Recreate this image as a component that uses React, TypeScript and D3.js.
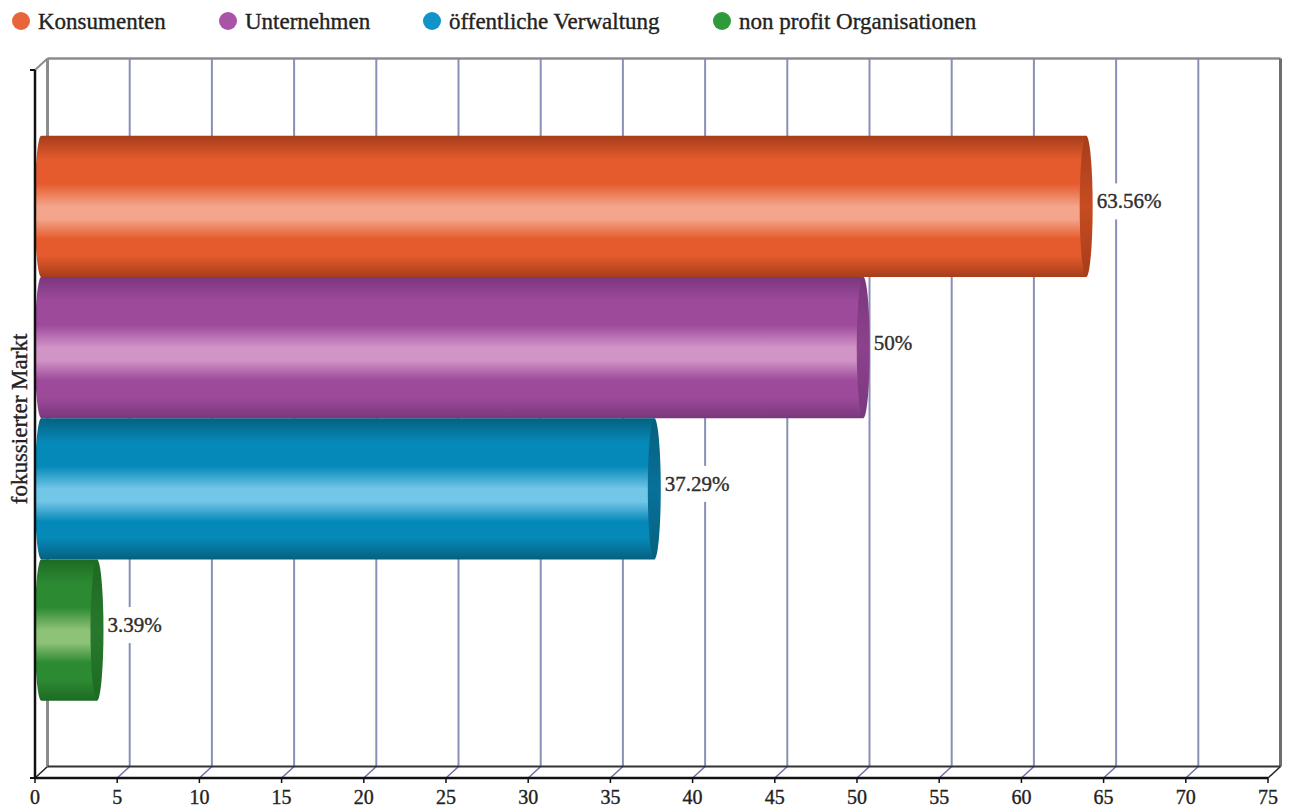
import React from "react";
import * as d3 from "d3";

const category = "fokussierter Markt";
const seriesNames = ["Konsumenten", "Unternehmen", "öffentliche Verwaltung", "non profit Organisationen"];
const seriesValues = [63.56, 50, 37.29, 3.39];
const valueLabels = ["63.56%", "50%", "37.29%", "3.39%"];
const xTicks = [0, 5, 10, 15, 20, 25, 30, 35, 40, 45, 50, 55, 60, 65, 70, 75];

const palette = [
  { legend: "#e8643a", dark: "#a63d1a", base: "#e55b2d", light: "#f4a58b", cap: "#c64c22" },
  { legend: "#a855a8", dark: "#7a377d", base: "#9d4a9b", light: "#d194c7", cap: "#8c428d" },
  { legend: "#0f93c8", dark: "#06607f", base: "#0589b9", light: "#72c6e7", cap: "#08719a" },
  { legend: "#2e9a3a", dark: "#1d6a23", base: "#2c8a32", light: "#8ec277", cap: "#27782c" },
];

const W = 1292;
const H = 810;
const FONT = "'Liberation Serif', 'Times New Roman', serif";

export default function App() {
  const dx = 12.5;
  const dy = -11.5;
  const frontTop = 70;
  const frontBottom = 778;
  const xF = d3.scaleLinear().domain([0, 75]).range([35, 1268]);
  const xB = (v: number) => xF(v) + dx;
  const xM = (v: number) => xF(v) + dx / 2;

  const cat = d3
    .scaleBand<string>()
    .domain([category])
    .range([frontTop + dy / 2, frontBottom + dy / 2])
    .paddingOuter(0.1266)
    .paddingInner(0);
  const c0 = cat(category) as number;
  const sub = d3.scaleBand<string>().domain(seriesNames).range([c0, c0 + cat.bandwidth()]).padding(0);
  const bh = sub.bandwidth();
  const rx = 6.5;

  const legendX = [21, 228, 432, 722];

  const gridColor = "#8a8fb8";
  const textStyle = { stroke: "#222", strokeWidth: 0.35 } as React.CSSProperties;

  return (
    <svg width={W} height={H} style={{ position: "absolute", left: 0, top: 0, background: "#fff" }}>
      <defs>
        {palette.map((p, i) => (
          <linearGradient key={i} id={`g${i}`} x1="0" y1="0" x2="0" y2="1">
            <stop offset="0%" stopColor={p.dark} />
            <stop offset="17%" stopColor={p.base} />
            <stop offset="34%" stopColor={p.base} />
            <stop offset="50%" stopColor={p.light} />
            <stop offset="59%" stopColor={p.light} />
            <stop offset="73%" stopColor={p.base} />
            <stop offset="85%" stopColor={p.base} />
            <stop offset="100%" stopColor={p.dark} />
          </linearGradient>
        ))}
        {palette.map((p, i) => (
          <linearGradient key={`c${i}`} id={`cap${i}`} x1="0" y1="0" x2="0" y2="1">
            <stop offset="0%" stopColor={p.dark} />
            <stop offset="50%" stopColor={p.cap} />
            <stop offset="100%" stopColor={p.dark} />
          </linearGradient>
        ))}
      </defs>

      {/* Legend */}
      {seriesNames.map((s, i) => (
        <g key={s}>
          <circle cx={legendX[i]} cy={21} r={9} fill={palette[i].legend} />
          <text x={legendX[i] + 17} y={29} fontFamily={FONT} fontSize={23} fill="#222" style={textStyle}>
            {s}
          </text>
        </g>
      ))}

      {/* Back wall grid */}
      {xTicks
        .filter((t) => t > 0 && t < 75)
        .map((t) => (
          <line key={`g${t}`} x1={xB(t)} x2={xB(t)} y1={frontTop + dy} y2={frontBottom + dy} stroke={gridColor} strokeWidth={2} />
        ))}
      {/* floor diagonals */}
      {xTicks.map((t) => (
        <line
          key={`d${t}`}
          x1={xF(t)}
          y1={frontBottom}
          x2={xB(t)}
          y2={frontBottom + dy}
          stroke={t === 0 || t === 75 ? "#222" : "#6a70a8"}
          strokeWidth={1.5}
        />
      ))}
      {/* back left wall */}
      <line x1={xB(0)} x2={xB(0)} y1={frontTop + dy} y2={frontBottom + dy} stroke="#8c8c8c" strokeWidth={3} />
      {/* top line */}
      <line x1={xB(0)} x2={xB(75)} y1={frontTop + dy} y2={frontTop + dy} stroke="#8c8c8c" strokeWidth={2.5} />
      {/* right wall */}
      <line x1={xB(75)} x2={xB(75)} y1={frontTop + dy} y2={frontBottom + dy} stroke="#6e6e6e" strokeWidth={3} />
      {/* top-left diagonal */}
      <line x1={xF(0)} y1={frontTop} x2={xB(0)} y2={frontTop + dy} stroke="#8c8c8c" strokeWidth={2} />
      {/* back floor line */}
      <line x1={xB(0)} x2={xB(75)} y1={frontBottom + dy} y2={frontBottom + dy} stroke="#333" strokeWidth={2} />

      {/* Bars */}
      {seriesNames.map((s, i) => {
        const top = sub(s) as number;
        const bottom = top + bh;
        const ry = bh / 2;
        const x0 = xM(0);
        const x1 = xM(seriesValues[i]);
        const d = `M${x0},${top} L${x1},${top} L${x1},${bottom} L${x0},${bottom} A${rx},${ry} 0 0 1 ${x0},${top} Z`;
        return (
          <g key={s}>
            <path d={d} fill={`url(#g${i})`} />
            <ellipse cx={x1} cy={top + ry} rx={rx} ry={ry} fill={`url(#cap${i})`} />
          </g>
        );
      })}

      {/* Value labels */}
      {seriesNames.map((s, i) => {
        const top = sub(s) as number;
        const cy = top + bh / 2 - 5;
        const x = xM(seriesValues[i]) + rx + 4;
        const tw = valueLabels[i].length * 10.6;
        return (
          <g key={`l${s}`}>
            <rect x={x - 2} y={cy - 18} width={tw + 4} height={36} fill="#fff" />
            <text x={x} y={cy + 7} fontFamily={FONT} fontSize={21} fill="#333" style={textStyle}>
              {valueLabels[i]}
            </text>
          </g>
        );
      })}

      {/* Front axes */}
      <line x1={xF(0)} x2={xF(0)} y1={frontTop} y2={frontBottom} stroke="#111" strokeWidth={2.5} />
      <line x1={xF(0) - 5} x2={xF(0)} y1={frontTop} y2={frontTop} stroke="#111" strokeWidth={2} />
      <line x1={xF(0) - 5} x2={xF(0)} y1={frontBottom} y2={frontBottom} stroke="#111" strokeWidth={2} />
      <line x1={xF(0)} x2={xF(75)} y1={frontBottom} y2={frontBottom} stroke="#111" strokeWidth={2.5} />
      {xTicks.map((t) => (
        <g key={`t${t}`}>
          <line x1={xF(t)} x2={xF(t)} y1={frontBottom} y2={frontBottom + 5} stroke="#111" strokeWidth={1.5} />
          <text x={xF(t)} y={804} textAnchor="middle" fontFamily={FONT} fontSize={20} fill="#222" style={textStyle}>
            {t}
          </text>
        </g>
      ))}

      {/* Y axis title */}
      <text
        transform={`translate(27,${(frontTop + frontBottom) / 2 - 5}) rotate(-90)`}
        textAnchor="middle"
        fontFamily={FONT}
        fontSize={23}
        fill="#222"
        style={textStyle}
      >
        {category}
      </text>
    </svg>
  );
}
